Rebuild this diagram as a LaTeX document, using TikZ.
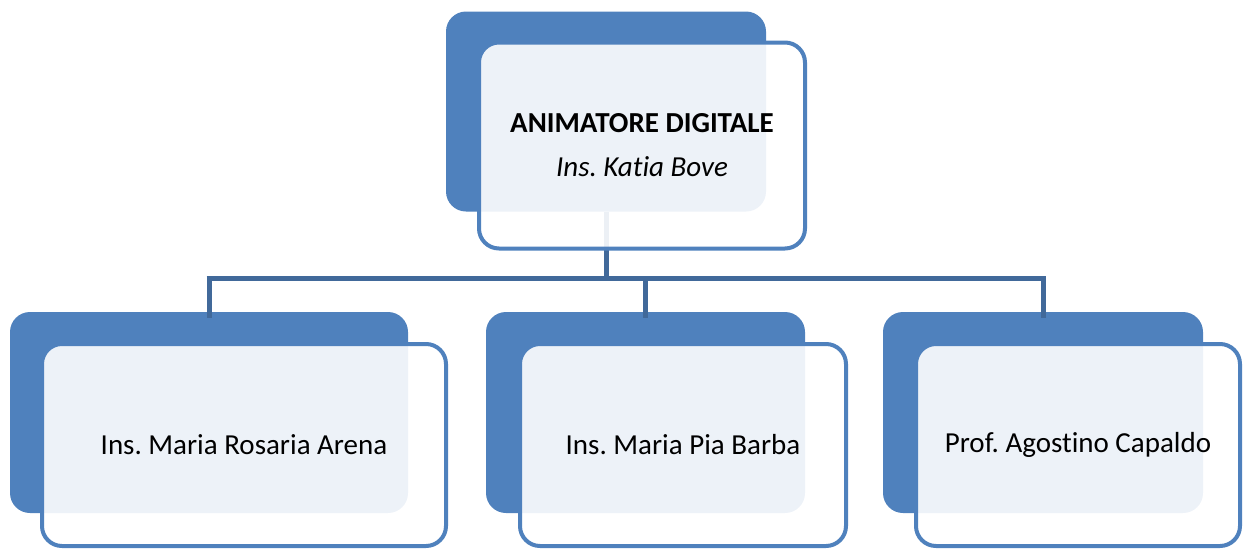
\documentclass[tikz,border=0pt]{standalone}
\usepackage{fontspec}
\setmainfont{Carlito}[Ligatures=NoCommon]
\frenchspacing
\definecolor{accent}{HTML}{4F81BD}
\definecolor{linkblue}{HTML}{41699A}
\begin{document}
\begin{tikzpicture}[x=1pt, y=-1pt]
      \tikzstyle{back} = [rectangle, rounded corners=20pt, fill=accent, inner sep=0pt]
      \tikzstyle{front} = [rectangle, rounded corners=20pt, draw=accent, line width=4pt, fill=white, fill opacity=0.9, text opacity=1, text centered, inner sep=0pt, font=\fontsize{29}{44}\selectfont]
      \tikzstyle{link} = [linkblue, line width=5pt]

      \useasboundingbox (0,0) rectangle (1243,550);
      \coordinate (bus) at (0,278);

      \node (ad-back) [back, minimum width=320pt, minimum height=200pt] at (606,111.5) {};
      \node (a1-back) [back, minimum width=398pt, minimum height=201pt] at (209,412.5) {};
      \node (a2-back) [back, minimum width=319pt, minimum height=201pt] at (645.5,412.5) {};
      \node (a3-back) [back, minimum width=320pt, minimum height=201pt] at (1043,412.5) {};

      \draw [link] (ad-back.south) -- (ad-back.south |- bus);
      \draw [link] ([xshift=-2.5pt]a1-back.north |- bus) -- ([xshift=2.5pt]a3-back.north |- bus);
      \draw [link] (a1-back.north |- bus) -- ([yshift=-6pt]a1-back.north);
      \draw [link] (a2-back.north |- bus) -- ([yshift=-6pt]a2-back.north);
      \draw [link] (a3-back.north |- bus) -- ([yshift=-6pt]a3-back.north);

      \node (ad) [front, align=center, minimum width=326pt, minimum height=206pt] at (642,145.5) {\textbf{ANIMATORE DIGITALE}\\ \textit{Ins. Katia Bove}};
      \node (a1) [front, minimum width=404pt, minimum height=202pt] at (244,445) {Ins. Maria Rosaria Arena};
      \node (a2) [front, minimum width=326pt, minimum height=202pt] at (683,445) {Ins. Maria Pia Barba};
      \node (a3) [front, minimum width=324pt, minimum height=202pt] at (1078,445) {Prof. Agostino Capaldo};
\end{tikzpicture}
\end{document}
